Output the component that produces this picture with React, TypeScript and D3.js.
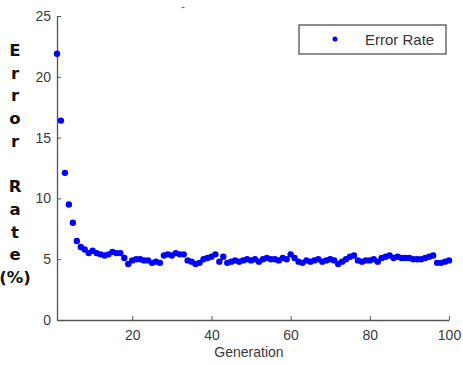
import React, { useEffect, useRef } from 'react';
import * as d3 from 'd3';

// generation index runs 1..100
const errorRate = [
  21.9, 16.4, 12.1, 9.5, 8.0, 6.5, 6.0, 5.8, 5.5, 5.7,
  5.5, 5.4, 5.3, 5.4, 5.6, 5.5, 5.5, 5.1, 4.6, 4.9,
  5.0, 5.0, 4.9, 4.9, 4.7, 4.8, 4.7, 5.3, 5.4, 5.3,
  5.5, 5.4, 5.4, 4.9, 4.8, 4.6, 4.7, 5.0, 5.1, 5.2,
  5.4, 4.8, 5.2, 4.7, 4.8, 4.9, 4.8, 4.9, 5.0, 4.9,
  5.0, 4.8, 5.0, 5.1, 5.0, 5.0, 4.9, 5.1, 5.0, 5.4,
  5.1, 4.8, 4.7, 4.9, 4.8, 4.9, 5.0, 4.8, 4.9, 5.0,
  4.9, 4.6, 4.8, 5.0, 5.2, 5.3, 4.9, 4.8, 4.9, 4.9,
  5.0, 4.8, 5.1, 5.2, 5.3, 5.1, 5.2, 5.1, 5.1, 5.1,
  5.0, 5.0, 5.0, 5.1, 5.2, 5.3, 4.7, 4.7, 4.8, 4.9,
];
const xTicks = [20, 40, 60, 80, 100];
const yTicks = [0, 5, 10, 15, 20, 25];
const yLabelChars = ['E', 'r', 'r', 'o', 'r', '', 'R', 'a', 't', 'e', '(%)'];
const seriesName = 'Error Rate';

const App = () => {
  const svgRef = useRef<SVGSVGElement>(null);

  useEffect(() => {
    const svg = d3.select(svgRef.current);
    svg.selectAll('*').remove();

    const left = 57, right = 449, top = 16, bottom = 320;
    const x = d3.scaleLinear().domain([1, 100]).range([left, right]);
    const y = d3.scaleLinear().domain([0, 25]).range([bottom, top]);
    const font = 'Liberation Sans, Arial, sans-serif';
    const axisColor = '#555';
    const labelColor = '#3a3a3a';

    // x axis, ticks point inward
    const xAxis = svg.append('g')
      .attr('transform', `translate(0,${bottom})`)
      .call(d3.axisBottom(x).tickValues(xTicks).tickSizeInner(-4).tickSizeOuter(0).tickPadding(10));
    xAxis.select('.domain').attr('stroke', axisColor).attr('stroke-width', 1.3);
    xAxis.selectAll('line').attr('stroke', axisColor);
    xAxis.selectAll('text')
      .style('font-family', font)
      .style('font-size', '14px')
      .attr('fill', labelColor);

    const yAxis = svg.append('g')
      .attr('transform', `translate(${left},0)`)
      .call(d3.axisLeft(y).tickValues(yTicks).tickSizeInner(-4).tickSizeOuter(0).tickPadding(6));
    yAxis.select('.domain').attr('stroke', axisColor).attr('stroke-width', 1.3);
    yAxis.selectAll('line').attr('stroke', axisColor);
    yAxis.selectAll('text')
      .style('font-family', font)
      .style('font-size', '14px')
      .attr('fill', labelColor);

    // small stray mark above the plot
    svg.append('text')
      .attr('x', 183)
      .attr('y', 11)
      .attr('text-anchor', 'middle')
      .style('font-family', font)
      .style('font-size', '12px')
      .attr('fill', '#666')
      .text('-');

    svg.append('text')
      .attr('x', (left + right) / 2 - 4)
      .attr('y', 357)
      .attr('text-anchor', 'middle')
      .style('font-family', font)
      .style('font-size', '14px')
      .attr('fill', labelColor)
      .text('Generation');

    // stacked y label
    svg.append('g')
      .selectAll('text')
      .data(yLabelChars)
      .enter()
      .append('text')
      .attr('x', 15)
      .attr('y', (d, i) => 56 + i * 22.7)
      .attr('text-anchor', 'middle')
      .style('font-family', 'DejaVu Sans, Verdana, sans-serif')
      .style('font-weight', 'bold')
      .style('font-size', '16.5px')
      .attr('fill', '#111')
      .text(d => d);

    svg.append('g')
      .selectAll('circle')
      .data(errorRate)
      .enter()
      .append('circle')
      .attr('cx', (d, i) => x(i + 1))
      .attr('cy', d => y(d))
      .attr('r', 3.2)
      .attr('fill', '#0000ff');

    // legend
    const legend = svg.append('g').attr('transform', 'translate(299,25)');
    legend.append('rect')
      .attr('width', 147)
      .attr('height', 29)
      .attr('fill', 'white')
      .attr('stroke', '#444')
      .attr('stroke-width', 1.2);
    legend.append('circle')
      .attr('cx', 36)
      .attr('cy', 14)
      .attr('r', 2.5)
      .attr('fill', '#0000ff');
    legend.append('text')
      .attr('x', 66)
      .attr('y', 19.5)
      .style('font-family', font)
      .style('font-size', '15px')
      .attr('fill', '#333')
      .text(seriesName);
  }, []);

  return (
    <svg
      ref={svgRef}
      width={463}
      height={365}
      style={{ position: 'absolute', left: 0, top: 0, background: 'white' }}
    />
  );
};

export default App;
